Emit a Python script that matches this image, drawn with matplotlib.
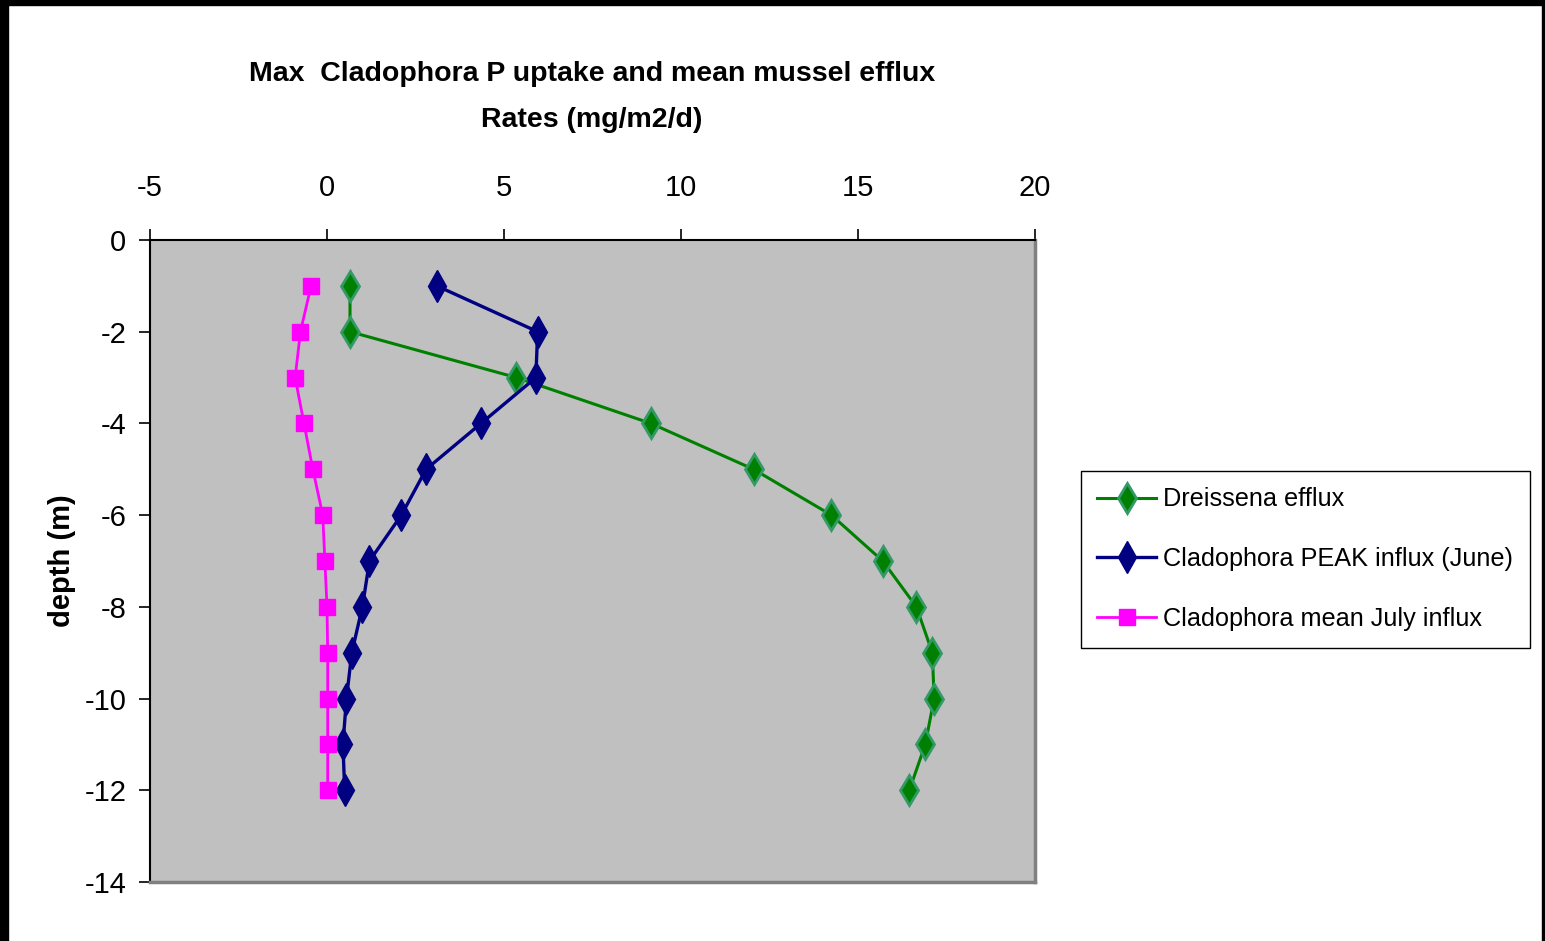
import matplotlib
matplotlib.use("Agg")
import matplotlib.pyplot as plt
from matplotlib.patches import Rectangle

plt.rcParams["font.family"] = ["Liberation Sans", "DejaVu Sans"]
plt.rcParams["axes.unicode_minus"] = False

# Data
depth = [-1, -2, -3, -4, -5, -6, -7, -8, -9, -10, -11, -12]
dreissena_efflux = [0.65, 0.65, 5.35, 9.15, 12.05, 14.25, 15.7, 16.65, 17.1, 17.15, 16.9, 16.45]
peak_influx_june = [3.1, 5.95, 5.9, 4.35, 2.8, 2.1, 1.2, 1.0, 0.7, 0.55, 0.45, 0.5]
mean_influx_july = [-0.45, -0.75, -0.9, -0.65, -0.4, -0.12, -0.06, 0.0, 0.02, 0.02, 0.02, 0.02]

series_labels = [
    "Dreissena efflux",
    "Cladophora PEAK influx (June)",
    "Cladophora mean July influx",
]
x_ticks = [-5, 0, 5, 10, 15, 20]
y_ticks = [0, -2, -4, -6, -8, -10, -12, -14]

W, H = 1545, 941
fig = plt.figure(figsize=(W / 100, H / 100), dpi=100, facecolor="white")
ax = fig.add_axes([150 / W, 1 - 882 / H, (1035 - 150) / W, (882 - 240) / H])
ax.set_facecolor("#C0C0C0")

ax.plot(dreissena_efflux, depth, color="#008000", lw=2.2, marker="d",
        markersize=15, markerfacecolor="#008000", markeredgecolor="#339966",
        markeredgewidth=2, label=series_labels[0], zorder=3)
ax.plot(peak_influx_june, depth, color="#000080", lw=2.4, marker="d",
        markersize=16, markerfacecolor="#000080", markeredgecolor="#000080",
        label=series_labels[1], zorder=3)
ax.plot(mean_influx_july, depth, color="#FF00FF", lw=2.0, marker="s",
        markersize=11, markerfacecolor="#FF00FF", markeredgecolor="#FF00FF",
        label=series_labels[2], zorder=3)

ax.set_xlim(-5, 20)
ax.set_ylim(-14, 0)
ax.set_xticks(x_ticks)
ax.set_yticks(y_ticks)
ax.xaxis.tick_top()
ax.tick_params(axis="x", direction="out", length=8, width=1.2, pad=19.5, labelsize=21)
ax.tick_params(axis="y", direction="out", length=8, width=1.2, pad=9, labelsize=21)

for side in ["top", "left"]:
    ax.spines[side].set_color("black")
    ax.spines[side].set_linewidth(1.5)
for side in ["right", "bottom"]:
    ax.spines[side].set_color("#808080")
    ax.spines[side].set_linewidth(2.5)

ax.set_ylabel("depth (m)", fontsize=21, fontweight="bold", labelpad=6)

fig.text(592 / W, 1 - 97 / H,
         "Max  Cladophora P uptake and mean mussel efflux\nRates (mg/m2/d)",
         ha="center", va="center", fontsize=20.5, fontweight="bold", linespacing=2.0)

leg = ax.legend(loc="upper left", bbox_to_anchor=(1081 / W, 1 - 471 / H),
                bbox_transform=fig.transFigure, borderaxespad=0, fontsize=18.2,
                frameon=True, fancybox=False, edgecolor="black", framealpha=1,
                handlelength=2.3, handletextpad=0.3, labelspacing=1.42,
                borderpad=0.65)
leg.get_frame().set_linewidth(1.0)

# black outer border (top, left, right)
fig.patches.append(Rectangle((0, 1 - 5 / H), 1, 5 / H, transform=fig.transFigure,
                             color="black", zorder=10))
fig.patches.append(Rectangle((0, 0), 8 / W, 1, transform=fig.transFigure,
                             color="black", zorder=10))
fig.patches.append(Rectangle((1 - 3 / W, 0), 3 / W, 1, transform=fig.transFigure,
                             color="black", zorder=10))

fig.savefig("out.png", dpi=100, facecolor="white")
